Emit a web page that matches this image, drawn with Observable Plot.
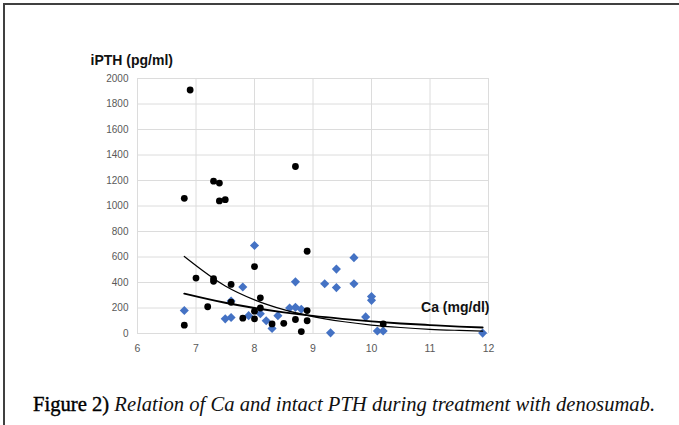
<!DOCTYPE html>
<html><head><meta charset="utf-8">
<script src="https://cdn.jsdelivr.net/npm/d3@7"></script>
<script src="https://cdn.jsdelivr.net/npm/@observablehq/plot@0.6"></script>
<style>
html,body{margin:0;padding:0;background:#fff;}
#wrap{position:relative;width:679px;height:425px;overflow:hidden;background:#fff;}
#frame{position:absolute;left:3px;top:3px;right:-10px;bottom:-10px;border-top:2px solid #404040;border-left:2px solid #404040;}
#chart{position:absolute;left:0;top:0;}
#caption{position:absolute;left:33px;top:394px;font-family:"Liberation Serif","Times New Roman",serif;font-size:18px;line-height:1;white-space:nowrap;color:#111;}
#caption .fig{font-weight:normal;color:#000;-webkit-text-stroke:0.4px #000;}
</style></head><body>
<div id="wrap"><div id="frame"></div><div id="chart"></div>
<div id="caption"><span class="fig">Figure 2)</span> <i>Relation of Ca and intact PTH during treatment with denosumab.</i></div></div>
<script>
// Black dots series
const blackCa  = [6.9, 6.8, 7.3, 7.4, 7.4, 7.5, 8.7, 6.8, 7.0, 7.2, 7.3, 7.3, 7.6, 7.6, 7.8, 8.0, 8.0, 8.0, 8.1, 8.1, 8.3, 8.5, 8.7, 8.8, 8.9, 8.9, 8.9, 10.2];
const blackPTH = [1910, 1060, 1195, 1180, 1040, 1050, 1310, 65, 435, 210, 430, 410, 385, 245, 120, 525, 175, 115, 280, 200, 75, 80, 110, 15, 645, 180, 100, 75];
// Blue diamonds series
const blueCa  = [6.8, 7.5, 7.6, 7.6, 7.8, 7.9, 8.0, 8.1, 8.2, 8.3, 8.4, 8.6, 8.7, 8.7, 8.8, 9.2, 9.3, 9.4, 9.4, 9.7, 9.7, 9.9, 10.0, 10.0, 10.1, 10.2, 11.9];
const bluePTH = [180, 115, 125, 255, 365, 140, 690, 155, 100, 40, 140, 200, 205, 405, 190, 390, 5, 505, 360, 595, 390, 130, 290, 260, 20, 20, 3];
// Trend lines
const trendCa    = [6.8, 7.5, 8.0, 8.5, 9.0, 9.5, 10.0, 10.5, 11.0, 11.5, 11.9];
const trendSteep = [604, 373, 264, 187, 133, 94, 66, 47, 33, 24, 18];
const trendFlat  = [313, 241, 200, 166, 138, 115, 95, 79, 66, 54, 47];
// Axes
const xTicks = [6, 7, 8, 9, 10, 11, 12];
const yTicks = [0, 200, 400, 600, 800, 1000, 1200, 1400, 1600, 1800, 2000];
const yTitle = "iPTH (pg/ml)";
const xTitle = "Ca (mg/dl)";

const black = blackCa.map((c, i) => ({ca: c, pth: blackPTH[i]}));
const blue = blueCa.map((c, i) => ({ca: c, pth: bluePTH[i]}));
const steep = trendCa.map((c, i) => ({ca: c, pth: trendSteep[i]}));
const flat = trendCa.map((c, i) => ({ca: c, pth: trendFlat[i]}));

const diamond = d3.symbolDiamond2 || "diamond";
const grid = "#dcdcdc";

const chart = Plot.plot({
  width: 679, height: 370,
  marginLeft: 137, marginRight: 191, marginTop: 78, marginBottom: 37,
  x: {domain: [6, 12]},
  y: {domain: [0, 2000]},
  style: {fontFamily: "'Liberation Sans', Arial, sans-serif", fontSize: "10px", color: "#595959", background: "transparent"},
  marks: [
    Plot.gridX(xTicks, {stroke: grid, strokeOpacity: 1, strokeWidth: 1}),
    Plot.gridY(yTicks, {stroke: grid, strokeOpacity: 1, strokeWidth: 1}),
    Plot.axisX(xTicks, {tickSize: 0, tickPadding: 11, label: null, fill: "#595959", fontSize: 10.5, tickFormat: d => String(d)}),
    Plot.axisY(yTicks, {tickSize: 0, tickPadding: 9, label: null, fill: "#595959", fontSize: 10, tickFormat: d => String(d)}),
    Plot.dot(blue, {x: "ca", y: "pth", symbol: diamond, r: 4.1, fill: "#4472C4", stroke: null}),
    Plot.dot(black, {x: "ca", y: "pth", r: 3.4, fill: "#000", stroke: null}),
    Plot.line(steep, {x: "ca", y: "pth", curve: "monotone-x", stroke: "#000", strokeWidth: 1.2}),
    Plot.line(flat, {x: "ca", y: "pth", curve: "monotone-x", stroke: "#000", strokeWidth: 1.9}),
    Plot.text([yTitle], {text: d => d, frameAnchor: "top-left", dx: -47, dy: -18, textAnchor: "start", lineAnchor: "middle", fontSize: 14, fontWeight: "bold", fill: "#111"}),
    Plot.text([xTitle], {text: d => d, frameAnchor: "bottom-right", dx: 1, dy: -26, textAnchor: "end", lineAnchor: "middle", fontSize: 14, fontWeight: "bold", fill: "#111"})
  ]
});
document.getElementById("chart").appendChild(chart);

// fit caption width to the reference span
const cap = document.getElementById("caption");
const target = 622;
const w = cap.getBoundingClientRect().width;
cap.style.fontSize = (18 * target / w).toFixed(2) + "px";
</script>
</body></html>
